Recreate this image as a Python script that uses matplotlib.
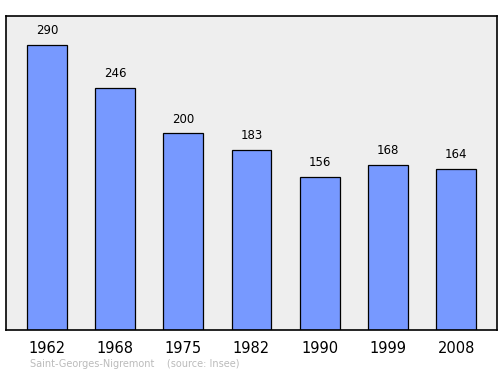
import matplotlib.pyplot as plt

years = ['1962', '1968', '1975', '1982', '1990', '1999', '2008']
population = [290, 246, 200, 183, 156, 168, 164]

fig = plt.figure(figsize=(5, 3.74), dpi=100)
ax = fig.add_axes([0.012, 0.118, 0.982, 0.839])
ax.set_facecolor('#eeeeee')

x = list(range(len(years)))
ax.bar(x, population, width=0.585, color='#7799ff', edgecolor='black', linewidth=0.9, zorder=2)
for xi, v in zip(x, population):
    ax.text(xi, v + 8, str(v), ha='center', va='bottom', fontsize=8.5, color='black')

ax.set_xlim(-0.6, 6.6)
ax.set_ylim(0, 319.5)
ax.set_xticks(x)
ax.set_xticklabels(years, fontsize=10.5)
ax.tick_params(axis='x', length=0, pad=8)
ax.set_yticks([])
for s in ax.spines.values():
    s.set_linewidth(1.2)

fig.text(0.06, 0.018, 'Saint-Georges-Nigremont    (source: Insee)', fontsize=7, color='#bbbbbb')

fig.savefig('out.png', dpi=100)
